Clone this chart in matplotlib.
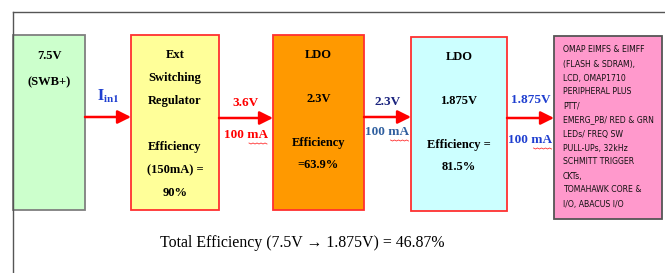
import numpy as np
import matplotlib.pyplot as plt
import matplotlib.patches as mpatches
from matplotlib import font_manager

# --- data ---
box_labels = [
    ["7.5V", "(SWB+)"],
    ["Ext", "Switching", "Regulator", "", "Efficiency", "(150mA) =", "90%"],
    ["LDO", "", "2.3V", "", "Efficiency", "=63.9%"],
    ["LDO", "", "1.875V", "", "Efficiency =", "81.5%"],
]
load_lines = [
    "OMAP EIMFS & EIMFF", "(FLASH & SDRAM),", "LCD, OMAP1710",
    "PERIPHERAL PLUS", "PTT/", "EMERG_PB/ RED & GRN", "LEDs/ FREQ SW",
    "PULL-UPs, 32kHz", "SCHMITT TRIGGER", "CKTs,", "TOMAHAWK CORE &",
    "I/O, ABACUS I/O",
]
volt_labels = ["", "3.6V", "2.3V", "1.875V"]
curr_labels = ["", "100 mA", "100 mA", "100 mA"]
total_text = "Total Efficiency (7.5V \u2192 1.875V) = 46.87%"

# --- layout (pixels) ---
box_x = [(13, 85), (131, 219), (273, 364), (411, 507), (554, 662)]
box_y = [(35, 210), (35, 210), (35, 210), (37, 211), (36, 219)]
box_face = ["#ccffcc", "#ffff99", "#ff9900", "#ccffff", "#ff99cc"]
box_edge = ["#7f7f7f", "#ff3030", "#ff3030", "#ff3030", "#555555"]
text_top = [56, 55, 55, 57]
line_step = [26, 23, 22, 22]
volt_col = ["", "#ff0000", "#1a237e", "#1f3fd0"]
curr_col = ["", "#ff0000", "#2f5f9f", "#1f3fd0"]
arrow_y = [117, 118, 117, 118]
volt_dy = [0, -15, -15, -18]
curr_dy = [0, 17, 15, 22]

serif = ["Liberation Serif", "DejaVu Serif"]
cond = [f for f in font_manager.fontManager.ttflist
        if "Condensed" in f.fname and f.name == "DejaVu Sans"]
narrow_kw = dict(family="DejaVu Sans", fontstretch="condensed") if cond else \
    dict(family="Liberation Sans")

fig = plt.figure(figsize=(6.65, 2.73), dpi=100)
ax = fig.add_axes([0, 0, 1, 1])
ax.set_xlim(0, 665)
ax.set_ylim(273, 0)
ax.axis("off")

# frame lines
ax.plot([13, 665], [12, 12], color="#555555", lw=1)
ax.plot([13, 13], [12, 273], color="#555555", lw=1)

for i, ((x0, x1), (y0, y1)) in enumerate(zip(box_x, box_y)):
    ax.add_patch(mpatches.Rectangle((x0, y0), x1 - x0, y1 - y0,
                                    facecolor=box_face[i], edgecolor=box_edge[i], lw=1.3))
    if i < 4:
        cx = (x0 + x1) / 2
        for k, t in enumerate(box_labels[i]):
            ax.text(cx, text_top[i] + k * line_step[i], t, ha="center", va="center",
                    family=serif, fontweight="bold", fontsize=9, color="black")

fs_load = 6.2 if cond else 5.7
for k, t in enumerate(load_lines):
    ax.text(563, 50 + k * 14, t, ha="left", va="center", fontsize=fs_load,
            color="#111111", **narrow_kw)

# arrows and labels
for i in range(4):
    xa, xb = box_x[i][1], box_x[i + 1][0]
    y = arrow_y[i]
    ax.annotate("", xy=(xb, y), xytext=(xa, y),
                arrowprops=dict(arrowstyle="-|>,head_length=0.8,head_width=0.4",
                                color="#ff0000", lw=1.8, shrinkA=0, shrinkB=0))
    cx = (xa + xb) / 2
    if volt_labels[i]:
        ax.text(cx, y + volt_dy[i], volt_labels[i], ha="center", va="center",
                family=serif, fontweight="bold", fontsize=9.5, color=volt_col[i])
        ax.text(cx, y + curr_dy[i], curr_labels[i], ha="center", va="center",
                family=serif, fontweight="bold", fontsize=9.5, color=curr_col[i])
        # spell-check squiggle under "mA"
        sx = np.linspace(cx + 3, cx + 21, 10)
        sy = y + curr_dy[i] + 8 + np.tile([0, 1], 5)
        ax.plot(sx, sy, color="#ff3030", lw=0.6)

plt.rcParams["mathtext.fontset"] = "stix"
ax.text(108, 96, r"$\mathbf{I}_{\mathbf{in1}}$", ha="center", va="center",
        fontsize=11.5, color="#1f3fd0")

ax.text(302, 243, total_text, ha="center", va="center", family=serif,
        fontsize=11.4, color="black")

fig.savefig("out.png", dpi=100)
